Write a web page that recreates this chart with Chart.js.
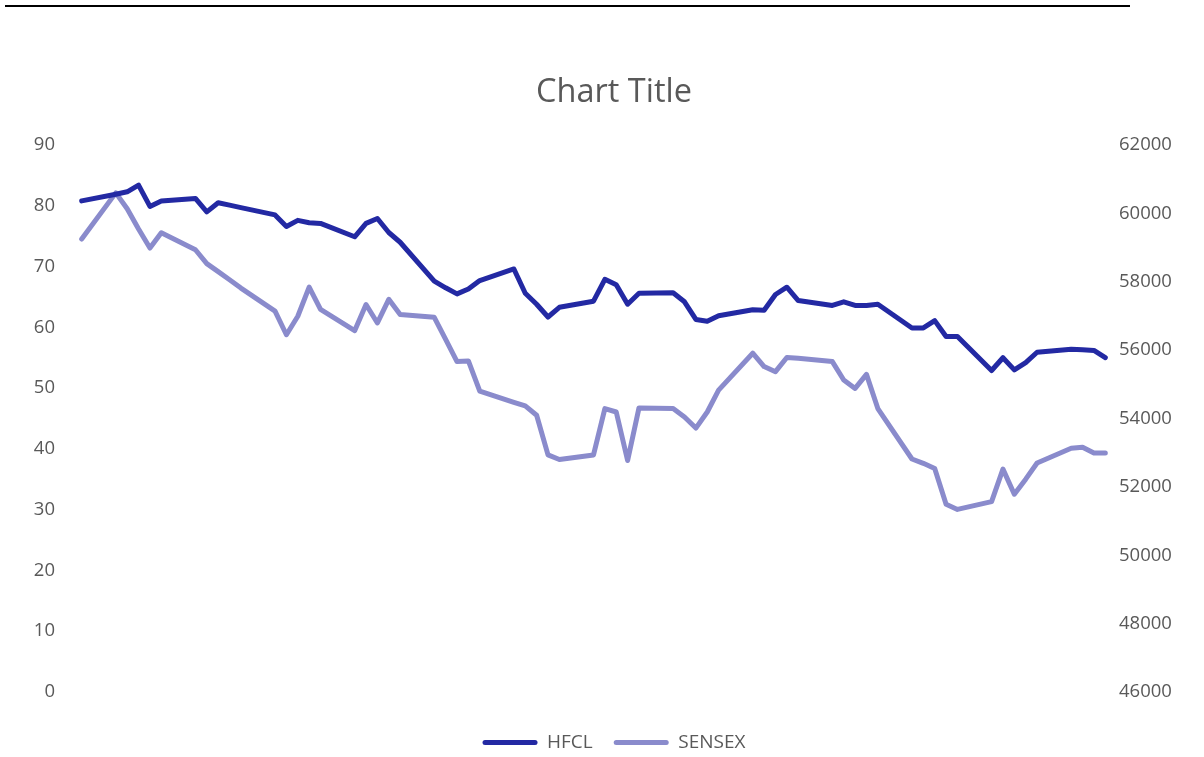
<!DOCTYPE html>
<html>
<head>
<meta charset="utf-8">
<title>HFCL vs SENSEX</title>
<script src="https://cdn.jsdelivr.net/npm/chart.js@4"></script>
<style>
  html, body { margin: 0; background: #fff; overflow: hidden; }
  #wrap { position: relative; width: 1204px; height: 762px; }
  #topRule { position: absolute; left: 5px; top: 5px; width: 1125px; height: 2px; background: #000; }
</style>
</head>
<body>
<div id="wrap">
  <div id="topRule"></div>
  <canvas id="chart"></canvas>
</div>
<script>
// trading days, counted in calendar days from the first session
const days = [0, 3, 4, 5, 6, 7, 10, 11, 12, 13, 14, 17, 18, 19, 20, 21, 24, 25, 26, 27, 28,
  31, 32, 33, 34, 35, 38, 39, 40, 41, 42, 45, 46, 47, 48, 49, 52, 53, 54, 55, 56,
  59, 60, 61, 62, 63, 66, 67, 68, 69, 70, 73, 74, 75, 76, 77, 80, 81, 82, 83, 84, 87, 88, 89, 90];

const hfcl = [80.8, 81.9, 82.3, 83.4, 79.9, 80.8, 81.2, 79.0, 80.5, 80.1, 79.7, 78.5, 76.6, 77.6, 77.2, 77.1, 74.9, 77.1, 77.9, 75.6, 74.0,
  67.6, 66.5, 65.5, 66.3, 67.7, 69.6, 65.6, 63.8, 61.7, 63.3, 64.3, 67.9, 67.0, 63.8, 65.6, 65.7, 64.2, 61.3, 61.0, 61.9,
  62.9, 62.8, 65.4, 66.6, 64.4, 63.6, 64.2, 63.6, 63.6, 63.8, 59.9, 59.9, 61.1, 58.5, 58.5, 52.9, 55.0, 53.0, 54.2, 55.9, 56.4, 56.3, 56.2, 55.0];

const sensex = [59250, 60600, 60135, 59545, 58985, 59430, 58935, 58530, 58295, 58060, 57815, 57140, 56450, 56990, 57845, 57190, 56570, 57335, 56795, 57485, 57040,
  56960, 56315, 55665, 55685, 54800, 54475, 54370, 54095, 52935, 52800, 52935, 54290, 54190, 52770, 54310, 54290, 54045, 53720, 54190, 54830,
  55910, 55520, 55370, 55785, 55760, 55665, 55125, 54880, 55290, 54290, 52815, 52690, 52540, 51490, 51340, 51570, 52520, 51785, 52225, 52700, 53130, 53160, 52990, 52990];

const leftTicks = { min: 0, max: 90, step: 10 };
const rightTicks = { min: 46000, max: 62000, step: 2000 };

const GREY = "#595959";
const FONT = "'Open Sans', 'DejaVu Sans', sans-serif";

function pts(vals) {
  return vals.map((v, i) => ({ x: days[i], y: v }));
}

const lineStyle = {
  borderWidth: 5,
  pointRadius: 0,
  pointHoverRadius: 0,
  borderCapStyle: "round",
  borderJoinStyle: "round",
  tension: 0,
};

new Chart(document.getElementById("chart"), {
  type: "line",
  data: {
    datasets: [
      { label: "HFCL", data: pts(hfcl), borderColor: "#2329a3", backgroundColor: "#2329a3", yAxisID: "y", ...lineStyle },
      { label: "SENSEX", data: pts(sensex), borderColor: "#8a8bcc", backgroundColor: "#8a8bcc", yAxisID: "y1", ...lineStyle },
    ],
  },
  options: {
    responsive: true,
    maintainAspectRatio: false,
    animation: false,
    layout: { padding: { left: 24, right: 0, top: 0, bottom: 0 } },
    plugins: {
      title: {
        display: true,
        text: "Chart Title",
        color: GREY,
        font: { family: FONT, size: 32.5, weight: "normal" },
        padding: { top: 73, bottom: 33 },
      },
      legend: {
        position: "bottom",
        // empty legend title only pushes the entries down, away from the plot
        title: { display: true, text: "", font: { size: 10 }, padding: 4 },
        labels: {
          color: GREY,
          font: { family: FONT, size: 19 },
          boxWidth: 55,
          boxHeight: 5,
          padding: 21,
          useBorderRadius: true,
          borderRadius: 2.5,
          generateLabels: (chart) =>
            Chart.defaults.plugins.legend.labels.generateLabels(chart).map((l) => ({ ...l, lineWidth: 0 })),
        },
      },
      tooltip: { enabled: false },
    },
    scales: {
      x: { type: "linear", min: -0.5, max: 90.5, display: false },
      y: {
        position: "left",
        min: leftTicks.min,
        max: leftTicks.max,
        afterFit: (s) => { s.width = 52; },
        ticks: { stepSize: leftTicks.step, color: GREY, font: { family: FONT, size: 18.5 }, padding: 21 },
        grid: { display: false, drawTicks: false },
        border: { display: false },
      },
      y1: {
        position: "right",
        min: rightTicks.min,
        max: rightTicks.max,
        afterFit: (s) => { s.width = 93; },
        ticks: {
          stepSize: rightTicks.step,
          color: GREY,
          font: { family: FONT, size: 18.5 },
          padding: 8,
          callback: (v) => String(v),
        },
        grid: { display: false, drawTicks: false },
        border: { display: false },
      },
    },
  },
});
</script>
</body>
</html>
